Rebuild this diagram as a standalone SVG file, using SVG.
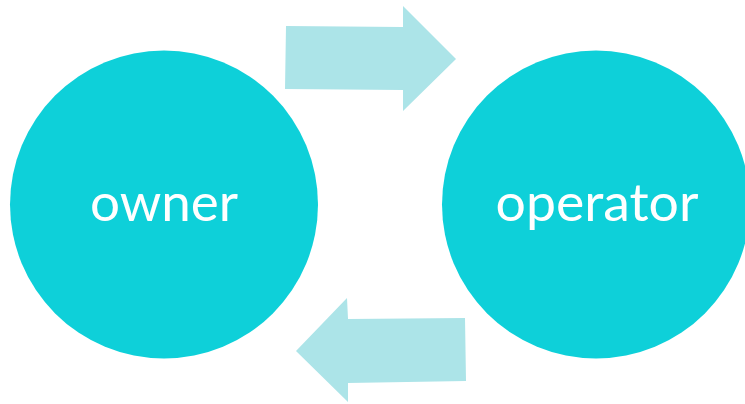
<svg xmlns="http://www.w3.org/2000/svg" width="745" height="404" viewBox="0 0 745 404">
<style>
.node{fill:#0ed0d9}
.arrow{fill:#ace4e8}
.label{fill:#ffffff;font-family:Lato,"Open Sans","Liberation Sans",sans-serif;font-size:52px;text-anchor:middle}
</style>
<rect width="745" height="404" fill="#ffffff"/>
<g id="connectors">
<polygon class="arrow" points="286,26 403,27 403,6 456,59 403,111 403,90 285,89"/>
<polygon class="arrow" points="465,318 348,319 347,298 296,351 348,402 348,383 466,381"/>
</g>
<g id="owner">
<circle class="node" cx="164" cy="204.5" r="154"/>
<text class="label" x="164" y="221" textLength="148" lengthAdjust="spacingAndGlyphs">owner</text>
</g>
<g id="operator">
<circle class="node" cx="596" cy="204.5" r="154"/>
<text class="label" x="597" y="221" textLength="203" lengthAdjust="spacingAndGlyphs">operator</text>
</g>
</svg>
